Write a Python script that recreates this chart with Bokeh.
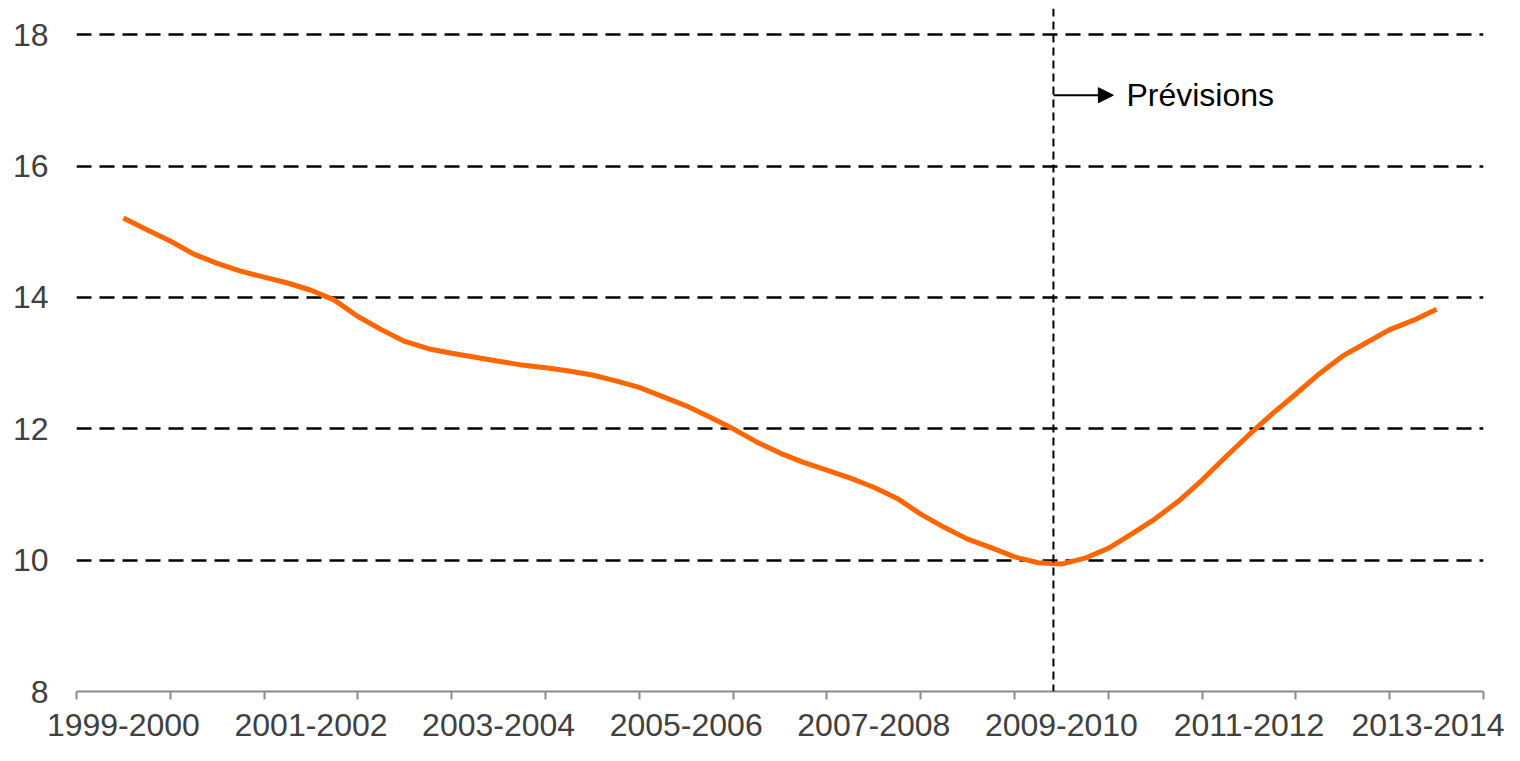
from bokeh.plotting import figure
from bokeh.models import FixedTicker, Span, Arrow, NormalHead, Label, ColumnDataSource
from bokeh.embed import file_html
from bokeh.resources import INLINE

# Categories (school years)
categories = ["1999-2000", "2000-2001", "2001-2002", "2002-2003", "2003-2004",
              "2004-2005", "2005-2006", "2006-2007", "2007-2008", "2008-2009",
              "2009-2010", "2010-2011", "2011-2012", "2012-2013", "2013-2014"]

# Quarterly positions (in category units, 0 = 1999-2000)
quarter_pos = [k / 4 for k in range(57)]

# Series values
values = [15.21, 15.03, 14.86, 14.66, 14.52, 14.40, 14.31, 14.22, 14.11, 13.96,
          13.71, 13.51, 13.33, 13.22, 13.15, 13.09, 13.03, 12.97, 12.93, 12.88,
          12.82, 12.73, 12.63, 12.49, 12.35, 12.18, 12.00, 11.80, 11.63, 11.49,
          11.37, 11.25, 11.11, 10.94, 10.70, 10.50, 10.32, 10.19, 10.05, 9.96,
          9.94, 10.03, 10.18, 10.40, 10.63, 10.90, 11.22, 11.57, 11.91, 12.23,
          12.53, 12.84, 13.11, 13.31, 13.51, 13.65, 13.82]

y_ticks = [8, 10, 12, 14, 16, 18]
forecast_start = 9.915
forecast_label = "Prévisions"

FONT = "Liberation Sans"

p = figure(width=1504, height=745, output_backend="svg", toolbar_location=None,
           x_range=(-0.5, 14.5), y_range=(8, 18.4),
           min_border_left=76, min_border_right=21, min_border_top=8,
           min_border_bottom=54)
p.outline_line_color = None
p.background_fill_color = "white"
p.border_fill_color = "white"

# Y axis
p.yaxis.ticker = FixedTicker(ticks=y_ticks)
p.yaxis.axis_line_color = None
p.yaxis.major_tick_line_color = None
p.yaxis.minor_tick_line_color = None
p.yaxis.major_tick_out = 0
p.yaxis.major_tick_in = 0
p.yaxis.major_label_standoff = 28
p.yaxis.major_label_text_font = FONT
p.yaxis.major_label_text_font_size = "32px"
p.yaxis.major_label_text_color = "#404040"

# X axis: labels at every other category centre, tick marks at boundaries
label_pos = list(range(0, len(categories), 2))
boundaries = [i - 0.5 for i in range(len(categories) + 1)]
p.xaxis.ticker = FixedTicker(ticks=label_pos, minor_ticks=boundaries)
p.xaxis.major_label_overrides = {i: categories[i] for i in label_pos}
p.xaxis.axis_line_color = "#8c8c8c"
p.xaxis.axis_line_width = 2
p.xaxis.major_tick_line_color = None
p.xaxis.major_tick_out = 0
p.xaxis.major_tick_in = 0
p.xaxis.minor_tick_line_color = "#8c8c8c"
p.xaxis.minor_tick_line_width = 2
p.xaxis.minor_tick_out = 8
p.xaxis.minor_tick_in = 0
p.xaxis.major_label_standoff = 14
p.xaxis.major_label_text_font = FONT
p.xaxis.major_label_text_font_size = "32px"
p.xaxis.major_label_text_color = "#404040"

# Grid
p.xgrid.grid_line_color = None
p.ygrid.ticker = FixedTicker(ticks=[t for t in y_ticks if t > 8])
p.ygrid.grid_line_color = "black"
p.ygrid.grid_line_width = 2.5
p.ygrid.grid_line_dash = "15 8"

# Series
src = ColumnDataSource(data=dict(x=quarter_pos, y=values))
p.line("x", "y", source=src, line_color="#FF6600", line_width=5)

# Forecast marker
p.add_layout(Span(location=forecast_start, dimension="height",
                  line_color="black", line_width=2, line_dash="8 5"))
arrow_y = 17.08
p.add_layout(Arrow(end=NormalHead(size=15, fill_color="black", line_color="black"),
                   x_start=forecast_start, y_start=arrow_y,
                   x_end=10.554, y_end=arrow_y,
                   line_color="black", line_width=2))
p.add_layout(Label(x=10.693, y=arrow_y, text=forecast_label,
                   text_font=FONT, text_font_size="32px",
                   text_color="black", text_baseline="middle"))

open("out.html", "w").write(file_html(p, INLINE))
